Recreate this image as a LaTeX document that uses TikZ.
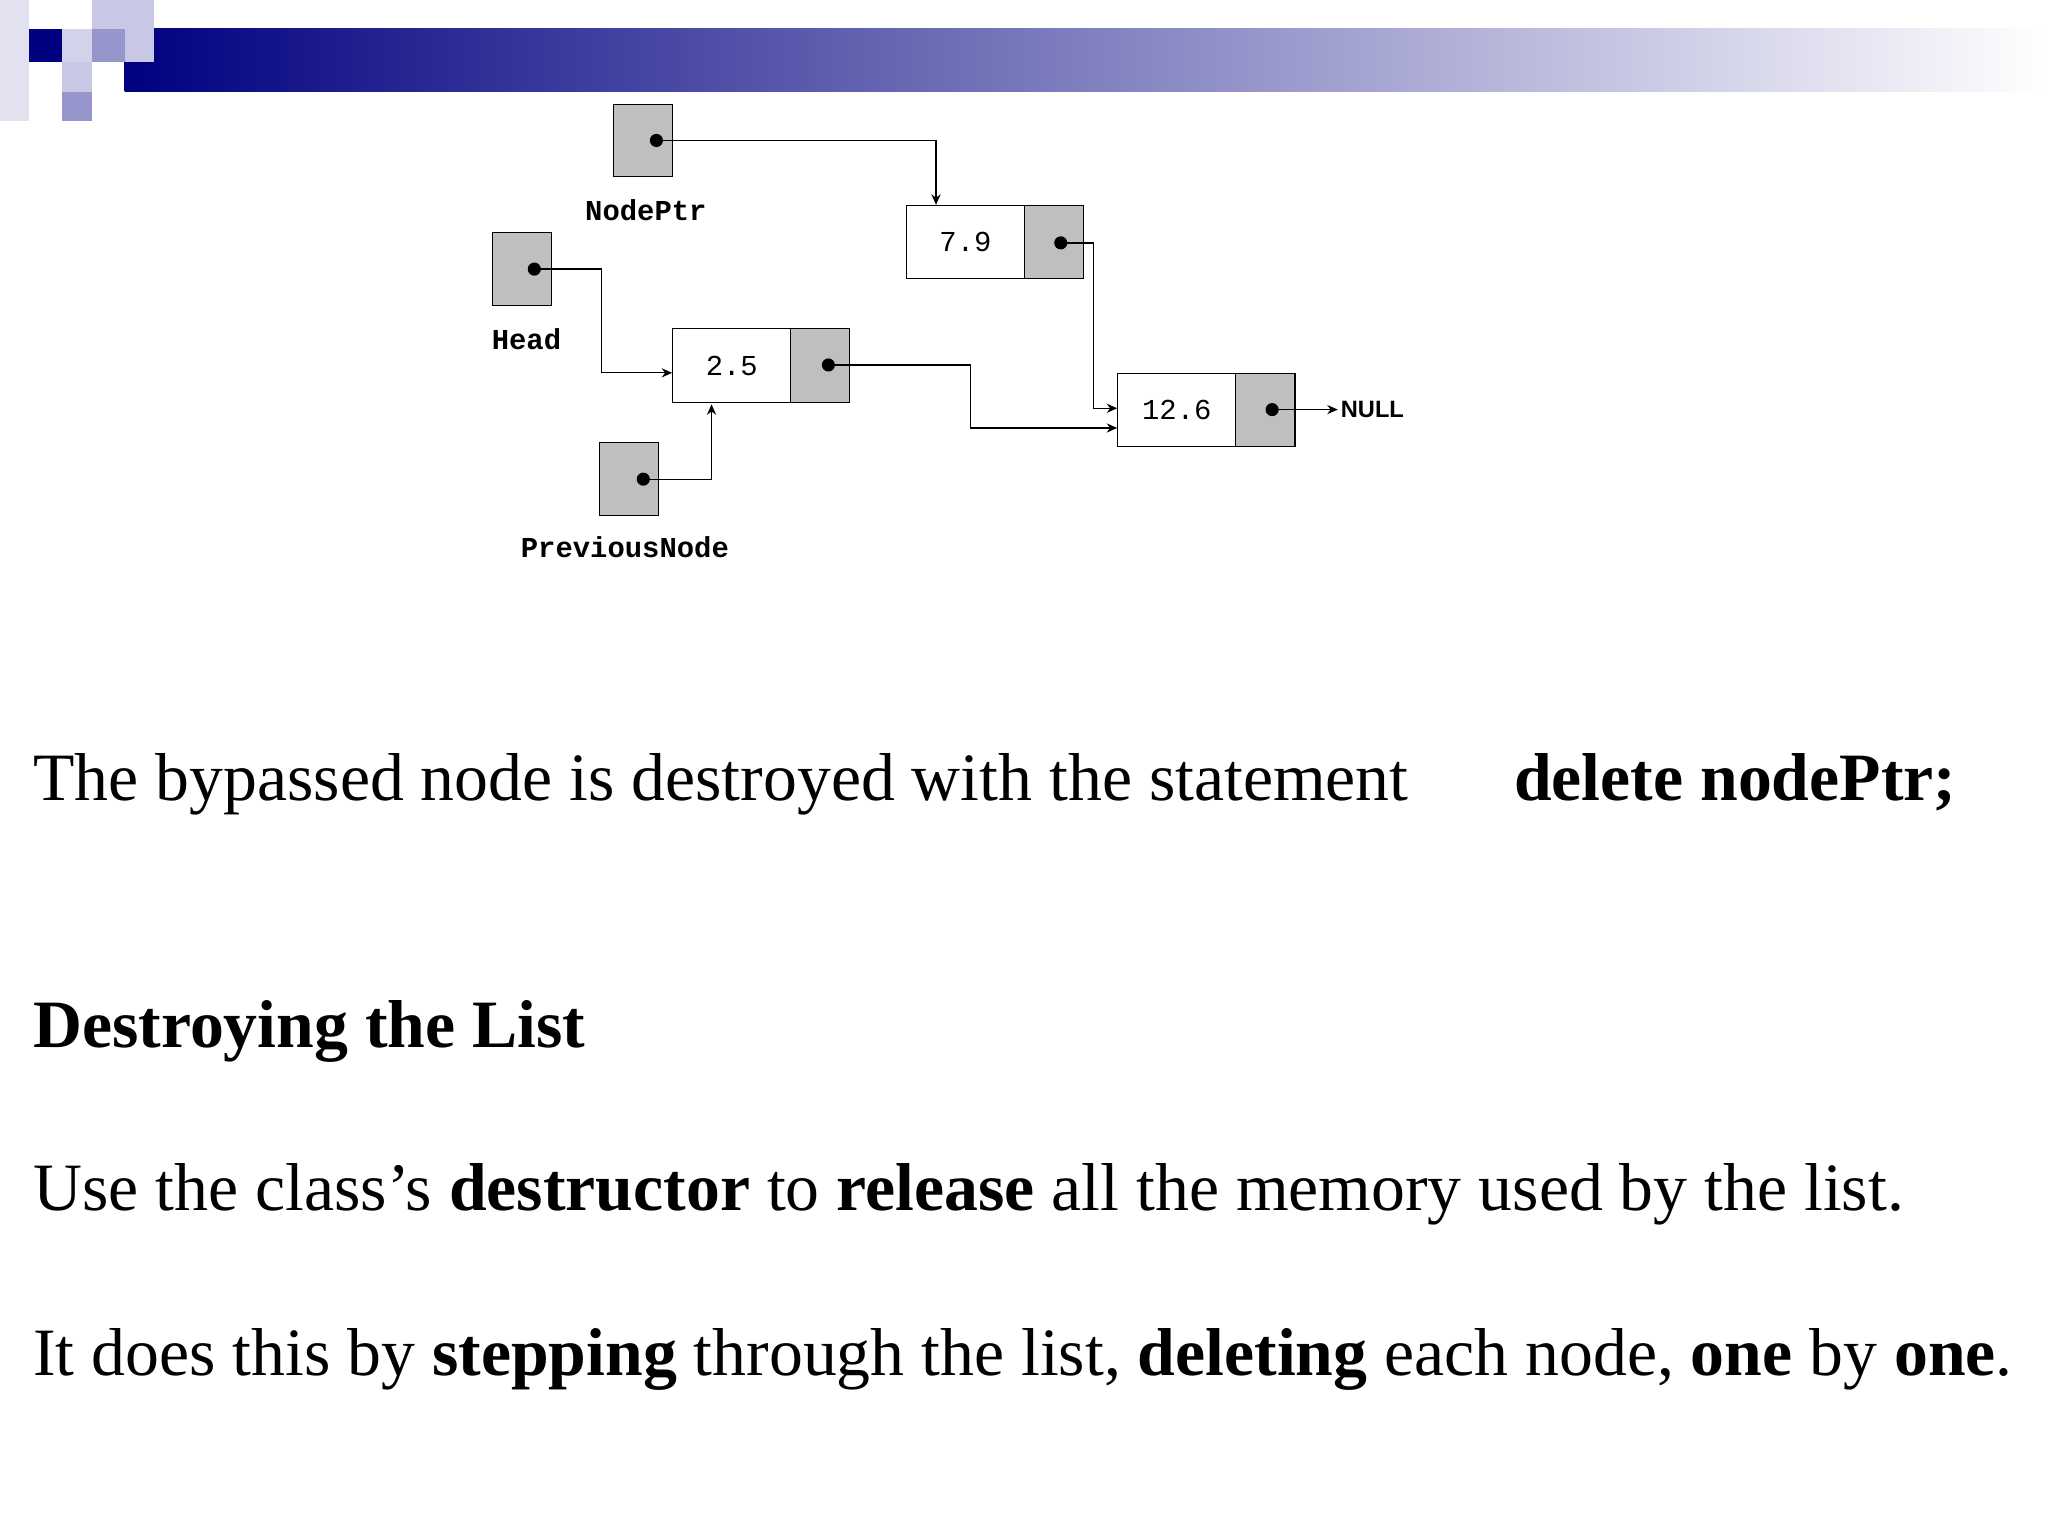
\documentclass[tikz,border=0pt]{standalone}
\usetikzlibrary{arrows.meta}
\usepackage{fontspec}
\setmainfont{Liberation Serif}
\newfontfamily\mono{Liberation Mono}
\newfontfamily\sansf{Liberation Sans}
\definecolor{navy}{RGB}{0,0,128}
\definecolor{lavA}{RGB}{225,225,240}
\definecolor{lavB}{RGB}{200,200,230}
\definecolor{lavC}{RGB}{210,210,235}
\definecolor{lavD}{RGB}{150,150,205}
\begin{document}
\begin{tikzpicture}[x=0.5pt,y=-0.5pt,
  ptr/.style={draw,fill=gray!50,minimum width=22.5pt,minimum height=27.5pt,inner sep=0pt,anchor=north west},
  data/.style={draw,fill=white,minimum width=45pt,minimum height=28pt,inner sep=0pt,anchor=north west,font=\mono\fontsize{11}{11}\selectfont},
  link/.style={draw,fill=gray!50,minimum width=22.5pt,minimum height=28pt,inner sep=0pt,anchor=north west},
  lbl/.style={font=\mono\bfseries\fontsize{11}{11}\selectfont},
  dot/.style={circle,fill=black,inner sep=0pt,minimum size=5pt},
  arr/.style={-{Stealth[length=4pt,width=3.5pt]},line width=0.5pt},
  txt/.style={anchor=base west,inner sep=0pt,font=\fontsize{25.8}{26}\selectfont}]
\useasboundingbox (0,0) rectangle (1560,1170);
% header
\shade[left color=navy, right color=white] (95,22) rectangle (1560,70);
\fill[lavA] (0,0) rectangle (22,92);
\fill[lavB] (70,0) rectangle (95,22);
\fill[lavB] (95,0) rectangle (117,47);
\fill[navy] (22,22) rectangle (47,47);
\fill[lavC] (47,22) rectangle (70,47);
\fill[lavD] (70,22) rectangle (95,47);
\fill[lavB] (47,47) rectangle (70,70);
\fill[lavD] (47,70) rectangle (70,92);
% diagram
\node[ptr] (np) at (467,79) {};
\node[dot] (npd) at (500,107) {};
\node[lbl] at (492,160) {NodePtr};
\node[ptr] (hd) at (375,177) {};
\node[dot] (hdd) at (407,205) {};
\node[lbl] at (401,258) {Head};
\node[ptr] (pv) at (456,337) {};
\node[dot] (pvd) at (490,365) {};
\node[lbl] at (476,417) {PreviousNode};
\node[data] (a) at (512,250) {2.5};
\node[link] (al) at (602,250) {};
\node[dot] (ad) at (631,278) {};
\node[data] (b) at (690,156) {7.9};
\node[link] (bl) at (780,156) {};
\node[dot] (bd) at (808,185) {};
\node[data] (c) at (851,284) {12.6};
\node[link] (cl) at (941,284) {};
\node[dot] (cd) at (969,312) {};
\node[font=\sansf\bfseries\fontsize{9}{9}\selectfont,anchor=west,inner sep=1pt] (null) at (1019,312) {NULL};
\coordinate (bt) at (713,156);
\coordinate (at) at (542,308);
\draw[arr] (npd.center) -| (bt);
\draw[arr] (hdd.center) -| (458,284) -- (a.west |- 0,284);
\draw[arr] (pvd.center) -| (at);
\draw[arr] (ad.center) -| (739,326) -- (c.west |- 0,326);
\draw[arr] (bd.center) -| (833,311) -- (c.west |- 0,311);
\draw[arr] (cd.center) -- (null.west);
% text
\node[txt] at (25,610) {The bypassed node is destroyed with the statement};
\node[txt,font=\bfseries\fontsize{25.8}{26}\selectfont] at (1153,610) {delete nodePtr;};
\node[txt,font=\bfseries\fontsize{25.8}{26}\selectfont] at (25,798) {Destroying the List};
\node[txt] at (25,922) {Use the class’s \textbf{destructor} to \textbf{release} all the memory used by the list.};
\node[txt] at (25,1048) {It does this by \textbf{stepping} through the list, \textbf{deleting} each node, \textbf{one} by \textbf{one}.};
\end{tikzpicture}
\end{document}
